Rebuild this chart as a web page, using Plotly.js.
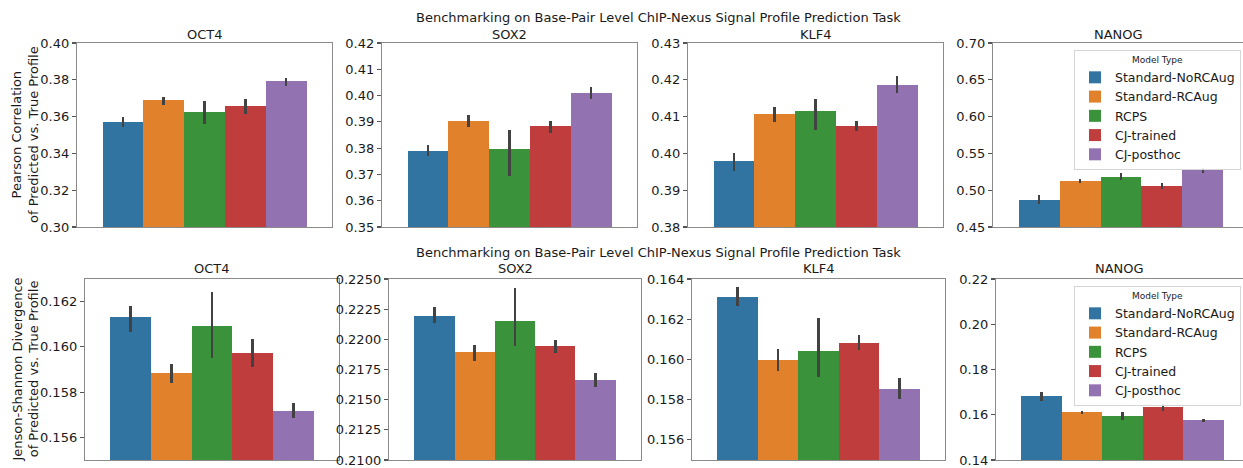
<!DOCTYPE html>
<html>
<head>
<meta charset="utf-8">
<script src="https://cdn.plot.ly/plotly-3.0.1.min.js"></script>
<style>html,body{margin:0;padding:0;background:#fff;}#chart{width:1243px;height:468px;}</style>
</head>
<body>
<div id="chart"></div>
<script>
// ---------------- data ----------------
const models = ['Standard-NoRCAug', 'Standard-RCAug', 'RCPS', 'CJ-trained', 'CJ-posthoc'];
const tfs = ['OCT4', 'SOX2', 'KLF4', 'NANOG'];
const suptitle = 'Benchmarking on Base-Pair Level ChIP-Nexus Signal Profile Prediction Task';
const pearsonLabel = 'Pearson Correlation<br>of Predicted vs. True Profile';
const jsdLabel = 'Jenson-Shannon Divergence<br>of Predicted vs. True Profile';

// Pearson correlation (row 1): mean, CI low, CI high per TF
const pearsonOCT4 = [0.3571, 0.3689, 0.3624, 0.3656, 0.3791];
const pearsonOCT4Lo = [0.3545, 0.3662, 0.3560, 0.3616, 0.3769];
const pearsonOCT4Hi = [0.3600, 0.3709, 0.3684, 0.3693, 0.3809];
const pearsonSOX2 = [0.3790, 0.3903, 0.3795, 0.3884, 0.4010];
const pearsonSOX2Lo = [0.3772, 0.3882, 0.3695, 0.3859, 0.3986];
const pearsonSOX2Hi = [0.3813, 0.3926, 0.3868, 0.3903, 0.4033];
const pearsonKLF4 = [0.3979, 0.4108, 0.4114, 0.4075, 0.4187];
const pearsonKLF4Lo = [0.3952, 0.4084, 0.4064, 0.4061, 0.4165];
const pearsonKLF4Hi = [0.4000, 0.4127, 0.4149, 0.4088, 0.4209];
const pearsonNANOG = [0.4873, 0.5127, 0.5186, 0.5059, 0.5268];
const pearsonNANOGLo = [0.4809, 0.5095, 0.5136, 0.5018, 0.5236];
const pearsonNANOGHi = [0.4932, 0.5159, 0.5227, 0.5100, 0.5295];

// Jensen-Shannon divergence (row 2)
const jsdOCT4 = [0.16130, 0.15883, 0.16093, 0.15972, 0.15718];
const jsdOCT4Lo = [0.16066, 0.15840, 0.15951, 0.15909, 0.15686];
const jsdOCT4Hi = [0.16180, 0.15925, 0.16243, 0.16035, 0.15753];
const jsdSOX2 = [0.22193, 0.21892, 0.22155, 0.21942, 0.21660];
const jsdSOX2Lo = [0.22138, 0.21820, 0.21945, 0.21884, 0.21602];
const jsdSOX2Hi = [0.22271, 0.21950, 0.22423, 0.21992, 0.21717];
const jsdKLF4 = [0.16313, 0.15996, 0.16042, 0.16083, 0.15852];
const jsdKLF4Lo = [0.16268, 0.15943, 0.15911, 0.16045, 0.15801];
const jsdKLF4Hi = [0.16359, 0.16052, 0.16208, 0.16121, 0.15908];
const jsdNANOG = [0.16829, 0.16107, 0.15960, 0.16328, 0.15768];
const jsdNANOGLo = [0.16622, 0.16018, 0.15768, 0.16181, 0.15680];
const jsdNANOGHi = [0.17005, 0.16166, 0.16107, 0.16475, 0.15827];

// y ticks
const pearsonTicks = [
  [0.30, 0.32, 0.34, 0.36, 0.38, 0.40],
  [0.35, 0.36, 0.37, 0.38, 0.39, 0.40, 0.41, 0.42],
  [0.38, 0.39, 0.40, 0.41, 0.42, 0.43],
  [0.45, 0.50, 0.55, 0.60, 0.65, 0.70]
];
const jsdTicks = [
  [0.156, 0.158, 0.160, 0.162],
  [0.2100, 0.2125, 0.2150, 0.2175, 0.2200, 0.2225, 0.2250],
  [0.156, 0.158, 0.160, 0.162, 0.164],
  [0.14, 0.16, 0.18, 0.20, 0.22]
];

// ---------------- styling / layout ----------------
const colors = ['#3274a1', '#e1812c', '#3a923a', '#c03d3e', '#9372b2'];
const W = 1243, H = 468;
const FONT = 'DejaVu Sans, sans-serif';
const TXT = '#1a1a1a';

const rows = [
  { means: [pearsonOCT4, pearsonSOX2, pearsonKLF4, pearsonNANOG],
    lo: [pearsonOCT4Lo, pearsonSOX2Lo, pearsonKLF4Lo, pearsonNANOGLo],
    hi: [pearsonOCT4Hi, pearsonSOX2Hi, pearsonKLF4Hi, pearsonNANOGHi],
    ticks: pearsonTicks, dec: [2, 2, 2, 2],
    ranges: [[0.30, 0.40], [0.35, 0.42], [0.38, 0.43], [0.45, 0.70]],
    cols: [[77, 332], [382, 637], [688, 943], [993, 1249]],
    top: 43, bottom: 227, label: pearsonLabel, legend: 'legend',
    supY: 27, titleGap: -1 },
  { means: [jsdOCT4, jsdSOX2, jsdKLF4, jsdNANOG],
    lo: [jsdOCT4Lo, jsdSOX2Lo, jsdKLF4Lo, jsdNANOGLo],
    hi: [jsdOCT4Hi, jsdSOX2Hi, jsdKLF4Hi, jsdNANOGHi],
    ticks: jsdTicks, dec: [3, 4, 3, 2],
    ranges: [[0.155, 0.163], [0.2100, 0.2250], [0.155, 0.164], [0.14, 0.22]],
    cols: [[85, 339], [389, 641], [692, 945], [996, 1249]],
    top: 279, bottom: 460, label: jsdLabel, legend: 'legend2',
    supY: 262, titleGap: 1 }
];

const traces = [];
const layout = {
  width: W, height: H,
  margin: { l: 0, r: 0, t: 0, b: 0 },
  paper_bgcolor: '#ffffff', plot_bgcolor: '#ffffff',
  font: { family: FONT, size: 13, color: TXT },
  barmode: 'overlay', bargap: 0,
  annotations: [], showlegend: true
};

rows.forEach((row, r) => {
  const yDom = [1 - row.bottom / H, 1 - row.top / H];
  tfs.forEach((tf, c) => {
    const idx = r * 4 + c + 1;
    const xa = 'x' + idx, ya = 'y' + idx;
    const [l, rr] = row.cols[c];
    const right = Math.min(rr, W);
    const pxPerUnit = (rr - l) / 6.25;
    const xRange = [-1.125, -1.125 + (right - l) / pxPerUnit];
    const isLast = c === 3;
    layout['xaxis' + idx] = {
      domain: [l / W, right / W], anchor: ya, type: 'category',
      categoryorder: 'array', categoryarray: models,
      range: xRange, showticklabels: false, ticks: '', showgrid: false,
      zeroline: false, showline: true, linecolor: '#8a8a8a', linewidth: 1.2,
      mirror: true, fixedrange: true
    };
    layout['yaxis' + idx] = {
      domain: yDom, anchor: xa, range: row.ranges[c],
      tickvals: row.ticks[c], ticktext: row.ticks[c].map(v => v.toFixed(row.dec[c])),
      ticks: 'outside', ticklen: 4, tickwidth: 1.2, tickcolor: '#555',
      tickfont: { family: FONT, size: 13, color: TXT },
      showgrid: false, zeroline: false, showline: true, linecolor: '#8a8a8a',
      linewidth: 1.2, mirror: !isLast, fixedrange: true
    };
    models.forEach((m, k) => {
      const v = row.means[c][k];
      traces.push({
        type: 'bar', x: [m], y: [v], xaxis: xa, yaxis: ya,
        name: m, legendgroup: m + r, legend: row.legend,
        showlegend: isLast,
        marker: { color: colors[k], line: { width: 0 } },
        error_y: { type: 'data', symmetric: false,
          array: [row.hi[c][k] - v], arrayminus: [v - row.lo[c][k]],
          color: '#424242', thickness: 2.6, width: 0 },
        hoverinfo: 'skip'
      });
    });
    // subplot title
    layout.annotations.push({
      text: tf, xref: 'paper', yref: 'paper',
      x: (l + right) / 2 / W, y: yDom[1], xanchor: 'center', yanchor: 'bottom',
      yshift: row.titleGap, showarrow: false, font: { family: FONT, size: 13, color: TXT }
    });
  });
  // row super-title
  layout.annotations.push({
    text: suptitle, xref: 'paper', yref: 'paper', x: 658 / W, y: 1 - row.supY / H,
    xanchor: 'center', yanchor: 'bottom', showarrow: false,
    font: { family: FONT, size: 13, color: TXT }
  });
  // y axis label
  layout.annotations.push({
    text: row.label, xref: 'paper', yref: 'paper', x: 25 / W,
    y: (yDom[0] + yDom[1]) / 2, xanchor: 'center', yanchor: 'middle',
    textangle: -90, showarrow: false,
    font: { family: FONT, size: 13, color: TXT }
  });
});

const legendStyle = (topPx) => ({
  x: 1241 / W, xanchor: 'right', y: 1 - topPx / H, yanchor: 'top',
  bgcolor: 'rgba(255,255,255,0.85)', bordercolor: '#d6d6d6', borderwidth: 1,
  font: { family: FONT, size: 12.5, color: TXT },
  title: { text: 'Model Type', side: 'top center', font: { family: FONT, size: 9, color: TXT } },
  tracegroupgap: 0, itemclick: false, itemdoubleclick: false
});
layout.legend = legendStyle(50);
layout.legend2 = legendStyle(286);

Plotly.newPlot('chart', traces, layout, { displayModeBar: false, staticPlot: true });
</script>
</body>
</html>
